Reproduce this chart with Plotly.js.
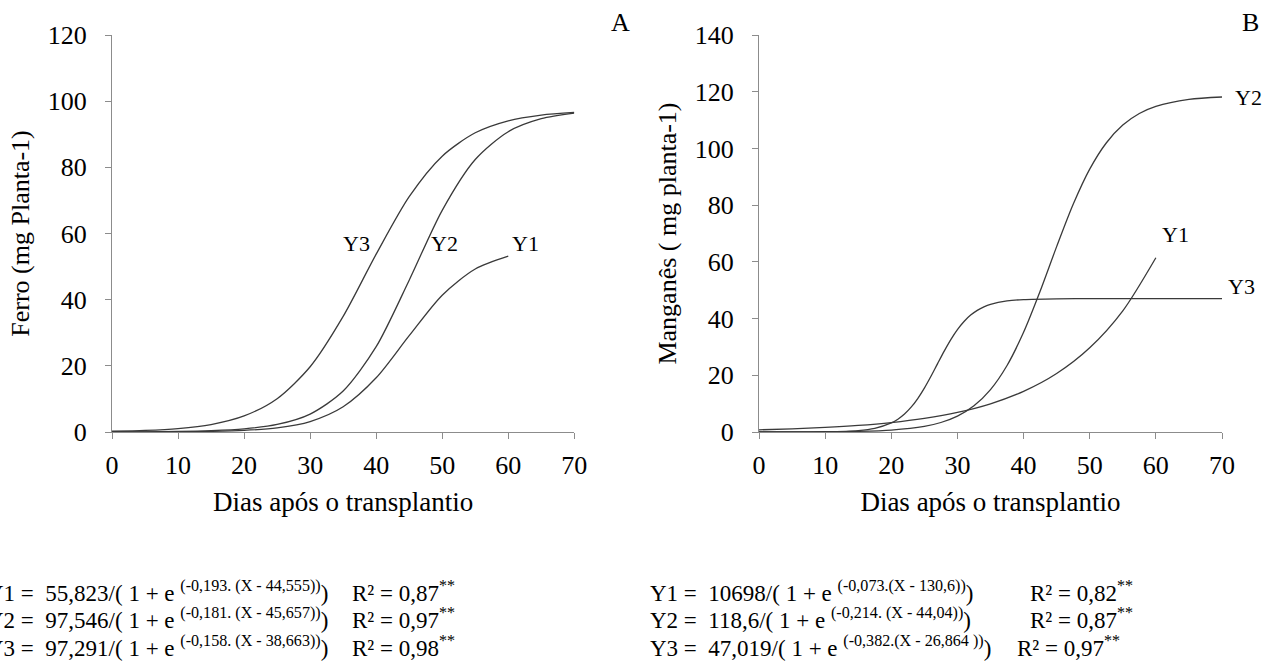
<!DOCTYPE html>
<html>
<head>
<meta charset="utf-8">
<script src="https://cdn.plot.ly/plotly-3.0.1.min.js"></script>
<style>
  html, body { margin: 0; padding: 0; background: #ffffff; }
  #chart { width: 1272px; height: 661px; }
</style>
</head>
<body>
<div id="chart"></div>
<script>
// ---------- Data ----------
// Panel A – Ferro (mg Planta-1)
const diasFeY1 = [0, 5, 10, 15, 20, 25, 30, 35, 40, 45, 50, 55, 60];
const ferroY1  = [0.01, 0.03, 0.07, 0.19, 0.48, 1.25, 3.17, 7.63, 16.38, 29.11, 41.36, 49.26, 53.13];

const diasFeY2 = [0, 5, 10, 15, 20, 25, 30, 35, 40, 45, 50, 55, 60, 65, 70];
const ferroY2  = [0.03, 0.06, 0.15, 0.38, 0.93, 2.27, 5.42, 12.37, 25.78, 45.88, 67.01, 82.37, 90.77, 94.69, 96.37];

const diasFeY3 = [0, 5, 10, 15, 20, 25, 30, 35, 40, 45, 50, 55, 60, 65, 70];
const ferroY3  = [0.22, 0.48, 1.04, 2.26, 4.85, 10.07, 19.73, 34.95, 53.76, 71.14, 83.38, 90.44, 94.06, 95.80, 96.61];

// Panel B – Manganês (mg planta-1)
const diasMnY1 = [0, 5, 10, 15, 20, 25, 30, 35, 40, 45, 50, 55, 60];
const mnY1     = [0.77, 1.11, 1.61, 2.31, 3.33, 4.80, 6.91, 9.95, 14.33, 20.62, 29.69, 42.72, 61.45];

const diasMnY2 = [0, 5, 10, 15, 20, 25, 27.5, 30, 32.5, 35, 37.5, 40, 42.5, 45, 47.5, 50, 52.5, 55, 57.5, 60, 65, 70];
const mnY2     = [0.01, 0.03, 0.08, 0.24, 0.69, 1.98, 3.35, 5.60, 9.25, 14.97, 23.46, 35.15, 49.62, 65.37, 80.30, 92.70, 101.92, 108.23, 112.30, 114.82, 117.28, 118.14];

const diasMnY3 = [0, 5, 10, 15, 17.5, 20, 21, 22, 23, 24, 25, 26, 27, 28, 29, 30, 31, 32, 33, 34, 35, 37.5, 40, 45, 50, 60, 70];
const mnY3     = [0.00, 0.01, 0.07, 0.50, 1.28, 3.19, 4.52, 6.34, 8.75, 11.80, 15.48, 19.66, 24.12, 28.53, 32.60, 36.12, 38.99, 41.22, 42.90, 44.13, 45.01, 46.22, 46.71, 46.97, 47.01, 47.02, 47.02];

const xTicks  = [0, 10, 20, 30, 40, 50, 60, 70];
const yTicksA = [0, 20, 40, 60, 80, 100, 120];
const yTicksB = [0, 20, 40, 60, 80, 100, 120, 140];

const seriesNames = ['Y1', 'Y2', 'Y3'];

const eqA = [
  'Y1 =&nbsp; 55,823/( 1 + e <sup>(-0,193. (X - 44,555))</sup>)',
  'Y2 =&nbsp; 97,546/( 1 + e <sup>(-0,181. (X - 45,657))</sup>)',
  'Y3 =&nbsp; 97,291/( 1 + e <sup>(-0,158. (X - 38,663))</sup>)'
];
const r2A = ['R² = 0,87<sup>**</sup>', 'R² = 0,97<sup>**</sup>', 'R² = 0,98<sup>**</sup>'];
const eqB = [
  'Y1 =&nbsp; 10698/( 1 + e <sup>(-0,073.(X - 130,6))</sup>)',
  'Y2 =&nbsp; 118,6/( 1 + e <sup>(-0,214. (X - 44,04))</sup>)',
  'Y3 =&nbsp; 47,019/( 1 + e <sup>(-0,382.(X - 26,864 ))</sup>)'
];
const r2B = ['R² = 0,82<sup>**</sup>', 'R² = 0,87<sup>**</sup>', 'R² = 0,97<sup>**</sup>'];

// ---------- Styling ----------
const FONT = 'Liberation Serif';
const lineStyle = { color: '#3a3a3a', width: 1.3, shape: 'spline', smoothing: 0.8 };

function tr(x, y, name, xa, ya) {
  return { x: x, y: y, name: name, xaxis: xa, yaxis: ya, type: 'scatter', mode: 'lines',
           line: lineStyle, showlegend: false, hoverinfo: 'x+y+name' };
}

const data = [
  tr(diasFeY1, ferroY1, seriesNames[0], 'x', 'y'),
  tr(diasFeY2, ferroY2, seriesNames[1], 'x', 'y'),
  tr(diasFeY3, ferroY3, seriesNames[2], 'x', 'y'),
  tr(diasMnY1, mnY1, seriesNames[0], 'x2', 'y2'),
  tr(diasMnY2, mnY2, seriesNames[1], 'x2', 'y2'),
  tr(diasMnY3, mnY3, seriesNames[2], 'x2', 'y2')
];

const M = { l: 112, r: 50, t: 35, b: 229 };
const W = 1272, H = 661;
const pw = W - M.l - M.r, ph = H - M.t - M.b;
const px2x = p => (p - M.l) / pw;
const py2y = p => (H - M.b - p) / ph;

function xAxis(domain, anchor) {
  return {
    domain: domain, anchor: anchor, range: [0, 70], tickvals: xTicks,
    showline: true, linecolor: '#8c8c8c', linewidth: 1,
    ticks: 'outside', ticklen: 6, tickcolor: '#8c8c8c',
    showgrid: false, zeroline: false, fixedrange: true,
    tickfont: { family: FONT, size: 26, color: '#000' },
    ticklabelstandoff: 4,
    title: { text: 'Dias após o transplantio', font: { family: FONT, size: 27, color: '#000' }, standoff: 12 }
  };
}
function yAxis(range, ticks, anchor, title) {
  return {
    anchor: anchor, range: range, tickvals: ticks,
    showline: true, linecolor: '#8c8c8c', linewidth: 1,
    ticks: 'outside', ticklen: 6, tickcolor: '#8c8c8c',
    showgrid: false, zeroline: false, fixedrange: true,
    tickfont: { family: FONT, size: 26, color: '#000' },
    ticklabelstandoff: 13,
    title: { text: title, font: { family: FONT, size: 26, color: '#000' }, standoff: 10 }
  };
}

const annFont = { family: FONT, size: 26, color: '#000' };
const lblFont = { family: FONT, size: 22, color: '#000' };
const eqFont = { family: FONT, size: 23, color: '#000' };

const annotations = [
  { xref: 'paper', yref: 'paper', x: px2x(620), y: py2y(22), text: 'A', showarrow: false, font: annFont, xanchor: 'center', yanchor: 'middle' },
  { xref: 'paper', yref: 'paper', x: px2x(1250), y: py2y(22), text: 'B', showarrow: false, font: annFont, xanchor: 'center', yanchor: 'middle' },
  { xref: 'x', yref: 'y', x: 37.0, y: 57, text: seriesNames[2], showarrow: false, font: lblFont },
  { xref: 'x', yref: 'y', x: 50.4, y: 57, text: seriesNames[1], showarrow: false, font: lblFont },
  { xref: 'x', yref: 'y', x: 62.6, y: 57, text: seriesNames[0], showarrow: false, font: lblFont },
  { xref: 'paper', yref: 'y2', x: px2x(1264), y: 118, text: seriesNames[1], showarrow: false, font: lblFont },
  { xref: 'x2', yref: 'y2', x: 63.0, y: 69.5, text: seriesNames[0], showarrow: false, font: lblFont },
  { xref: 'paper', yref: 'y2', x: px2x(1257), y: 51.3, text: seriesNames[2], showarrow: false, font: lblFont }
];

const eqY = [591, 618, 646];
const r2BX = [1028, 1028, 1015];
for (let i = 0; i < 3; i++) {
  annotations.push({ xref: 'paper', yref: 'paper', x: px2x(-15), y: py2y(eqY[i]), text: eqA[i], showarrow: false, font: eqFont, xanchor: 'left', yanchor: 'middle' });
  annotations.push({ xref: 'paper', yref: 'paper', x: px2x(350), y: py2y(eqY[i]), text: r2A[i], showarrow: false, font: eqFont, xanchor: 'left', yanchor: 'middle' });
  annotations.push({ xref: 'paper', yref: 'paper', x: px2x(648), y: py2y(eqY[i]), text: eqB[i], showarrow: false, font: eqFont, xanchor: 'left', yanchor: 'middle' });
  annotations.push({ xref: 'paper', yref: 'paper', x: px2x(r2BX[i]), y: py2y(eqY[i]), text: r2B[i], showarrow: false, font: eqFont, xanchor: 'left', yanchor: 'middle' });
}

const layout = {
  width: W, height: H, margin: M,
  paper_bgcolor: '#ffffff', plot_bgcolor: '#ffffff',
  font: { family: FONT, color: '#000' },
  showlegend: false,
  xaxis: xAxis([0, px2x(574.3)], 'y'),
  yaxis: yAxis([0, 120], yTicksA, 'x', 'Ferro (mg Planta-1)'),
  xaxis2: xAxis([px2x(759), 1], 'y2'),
  yaxis2: yAxis([0, 140], yTicksB, 'x2', 'Manganês ( mg planta-1)'),
  annotations: annotations
};

Plotly.newPlot('chart', data, layout, { displayModeBar: false });
</script>
</body>
</html>
